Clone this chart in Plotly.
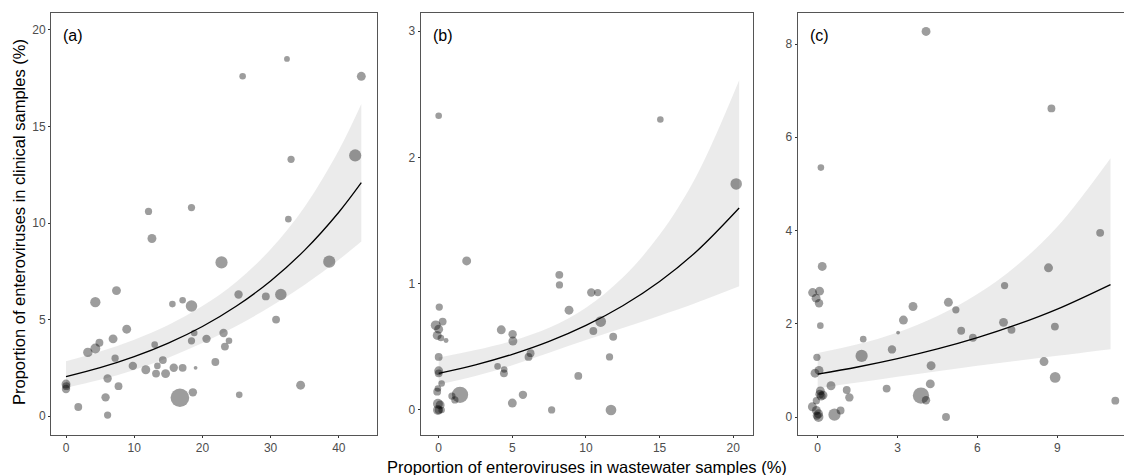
import math
import plotly.graph_objects as go

W, H = 1124, 475

# ---------------- data: panel (a) ----------------
a_x = [32.4, 25.9, 43.3, 42.4, 33.0, 12.1, 18.4, 32.6, 12.6, 22.8, 38.6, 7.4, 4.3, 25.3, 29.3,
       31.5, 15.6, 17.1, 18.4, 30.8, 8.9, 6.9, 4.9, 4.3, 3.2, 13.0, 18.8, 18.4, 20.6, 23.1,
       23.9, 23.3, 7.2, 14.2, 13.4, 9.8, 11.7, 13.2, 14.6, 15.8, 17.1, 19.0, 21.9, 6.1, 0.0,
       0.0, 0.05, 7.7, 5.8, 1.8, 6.1, 16.7, 18.6, 25.4, 34.4]
a_y = [18.5, 17.6, 17.6, 13.5, 13.3, 10.6, 10.8, 10.2, 9.2, 7.96, 8.0, 6.5, 5.9, 6.3, 6.2,
       6.3, 5.8, 6.0, 5.7, 5.0, 4.5, 4.0, 3.8, 3.5, 3.3, 3.7, 4.3, 3.9, 4.0, 4.3,
       3.9, 3.6, 3.0, 2.9, 2.6, 2.6, 2.4, 2.2, 2.2, 2.5, 2.5, 2.5, 2.8, 1.95, 1.66,
       1.4, 1.55, 1.55, 0.97, 0.47, 0.05, 0.95, 1.23, 1.1, 1.6]
a_n = [3, 4, 8, 16, 5, 5, 5, 4, 8, 16, 16, 8, 11, 7, 6,
       14, 4, 4, 14, 6, 8, 8, 6, 10, 9, 4, 4, 5, 7, 7,
       4, 6, 5, 6, 4, 7, 8, 6, 8, 7, 6, 1, 6, 7, 8,
       7, 6, 6, 7, 6, 5, 40, 7, 4, 8]
a_fit_x = [0, 5, 10, 15, 20, 25, 30, 35, 40, 43.3]
a_fit = [2.04, 2.505, 3.077, 3.779, 4.641, 5.70, 7.00, 8.597, 10.56, 12.09]
a_lo = [1.468, 1.878, 2.392, 3.023, 3.782, 4.666, 5.671, 6.808, 8.098, 9.04]
a_hi = [2.835, 3.341, 3.959, 4.723, 5.696, 6.964, 8.641, 10.85, 13.77, 16.16]
a_xticks = [0, 10, 20, 30, 40]
a_yticks = [0, 5, 10, 15, 20]

# ---------------- data: panel (b) ----------------
b_x = [0.0, 15.05, 20.2, 1.9, 8.19, 8.2, 10.36, 10.8, 8.85, 11.0, 10.5, 11.85, 11.6, 4.25, 5.02,
       5.04, 6.24, 6.1, 4.0, 4.45, 4.43, 9.48, 5.72, 5.0, 7.67, 11.7, 1.45, 1.1, 0.9,
       0.04, -0.2, 0.27, 0.0, -0.1, 0.15, 0.5, 0.0, 0.0, 0.0, 0.2, -0.05, -0.1, -0.05, 0.1,
       -0.05, 0.2, 0.0]
b_y = [2.33, 2.30, 1.79, 1.18, 1.07, 0.99, 0.93, 0.93, 0.79, 0.70, 0.625, 0.58, 0.42, 0.635, 0.60,
       0.546, 0.45, 0.42, 0.345, 0.32, 0.29, 0.27, 0.12, 0.055, 0.0, 0.0, 0.12, 0.08, 0.11,
       0.815, 0.67, 0.70, 0.64, 0.59, 0.57, 0.55, 0.42, 0.31, 0.29, 0.21, 0.17, 0.145, 0.05, 0.04,
       0.0, 0.0, 0.0]
b_n = [4, 4, 14, 8, 6, 5, 7, 5, 8, 12, 6, 6, 5, 8, 7,
       8, 6, 6, 4, 4, 6, 6, 7, 8, 5, 12, 30, 5, 5,
       5, 10, 6, 8, 8, 4, 2, 6, 8, 6, 4, 4, 6, 10, 8,
       10, 4, 6]
b_fit_x = [0, 2.5, 5, 7.5, 10, 12.5, 15, 17.5, 20.4]
b_fit = [0.290, 0.3575, 0.4408, 0.5433, 0.6697, 0.8256, 1.0178, 1.2548, 1.599]
b_lo = [0.2023, 0.2697, 0.3545, 0.4533, 0.5538, 0.650, 0.7469, 0.8495, 0.9796]
b_hi = [0.4156, 0.474, 0.548, 0.651, 0.810, 1.0485, 1.387, 1.853, 2.610]
b_xticks = [0, 5, 10, 15, 20]
b_yticks = [0, 1, 2, 3]

# ---------------- data: panel (c) ----------------
c_x = [4.07, 8.78, 0.12, 10.61, 0.17, -0.19, 0.07, -0.06, 0.05, 0.1, -0.03, -0.1, 0.05, 0.1, 0.08,
       0.13, -0.05, -0.2, -0.05, 0.03, 0.03, -0.03, 0.2, 0.5, 0.63, 0.86, 1.09, 1.19, 1.65, 1.71,
       2.59, 2.79, 3.02, 3.22, 3.58, 3.88, 4.07, 4.26, 4.23, 4.82, 4.91, 5.19, 5.39, 5.83, 7.02,
       6.98, 7.28, 8.67, 8.91, 8.5, 8.92, 11.18]
c_y = [8.27, 6.62, 5.35, 3.95, 3.23, 2.67, 2.70, 2.55, 2.44, 1.96, 1.28, 0.94, 1.0, 0.56, 0.49,
       0.45, 0.35, 0.22, 0.14, 0.07, 0.0, 0.03, 0.47, 0.67, 0.05, 0.14, 0.58, 0.42, 1.31, 1.67,
       0.61, 1.45, 1.81, 2.08, 2.37, 0.46, 0.36, 1.10, 0.71, 0.0, 2.46, 2.30, 1.85, 1.70, 2.82,
       2.03, 1.87, 3.2, 1.94, 1.19, 0.85, 0.35]
c_n = [8, 6, 4, 6, 8, 8, 8, 8, 7, 4, 5, 8, 8, 8, 8,
       8, 5, 8, 8, 8, 10, 7, 8, 8, 16, 6, 6, 7, 16, 4,
       6, 7, 1, 8, 8, 30, 7, 8, 8, 6, 8, 5, 6, 6, 5,
       8, 6, 8, 6, 8, 12, 6]
c_fit_x = [0, 1.5, 3, 4.5, 6, 7.5, 9, 11]
c_fit = [0.92, 1.0729, 1.2512, 1.4591, 1.7017, 1.9846, 2.3143, 2.841]
c_lo = [0.6167, 0.7384, 0.8628, 0.9836, 1.0983, 1.2075, 1.3133, 1.4538]
c_hi = [1.3725, 1.559, 1.814, 2.1645, 2.6366, 3.262, 4.0785, 5.551]
c_xticks = [0, 3, 6, 9]
c_yticks = [0, 2, 4, 6, 8]

labels = ["(a)", "(b)", "(c)"]
x_title = "Proportion of enteroviruses in wastewater samples (%)"
y_title = "Proportion of enteroviruses in clinical samples (%)"

# ---------------- layout geometry (pixels) ----------------
FONT = "Liberation Sans, Arial, Helvetica, sans-serif"
panels = [
    dict(x=a_x, y=a_y, n=a_n, fx=a_fit_x, f=a_fit, lo=a_lo, hi=a_hi, xt=a_xticks, yt=a_yticks,
         px=(51, 377), xr=[-2.2, 45.6], yr=[-0.98, 20.88]),
    dict(x=b_x, y=b_y, n=b_n, fx=b_fit_x, f=b_fit, lo=b_lo, hi=b_hi, xt=b_xticks, yt=b_yticks,
         px=(420.7, 752.7), xr=[-1.22, 21.32], yr=[-0.198, 3.143]),
    dict(x=c_x, y=c_y, n=c_n, fx=c_fit_x, f=c_fit, lo=c_lo, hi=c_hi, xt=c_xticks, yt=c_yticks,
         px=(797.7, 1124), xr=[-0.751, 11.506], yr=[-0.386, 8.666]),
]
PY = (13, 435)

fig = go.Figure()
layout = dict(
    width=W, height=H, margin=dict(l=0, r=0, t=0, b=0),
    paper_bgcolor="white", plot_bgcolor="white", showlegend=False,
    font=dict(family=FONT, size=13, color="#4d4d4d"),
)

def size_of(n):
    return 1.0 + 2.8 * math.sqrt(n)

annotations = []
for i, p in enumerate(panels):
    sfx = "" if i == 0 else str(i + 1)
    xa, ya = "x" + sfx, "y" + sfx
    # ribbon
    fig.add_trace(go.Scatter(x=p["fx"], y=p["lo"], mode="lines", line=dict(width=0, shape="spline"),
                             xaxis=xa, yaxis=ya, hoverinfo="skip"))
    fig.add_trace(go.Scatter(x=p["fx"], y=p["hi"], mode="lines", line=dict(width=0, shape="spline"),
                             fill="tonexty", fillcolor="rgba(153,153,153,0.2)",
                             xaxis=xa, yaxis=ya, hoverinfo="skip"))
    # points
    fig.add_trace(go.Scatter(x=p["x"], y=p["y"], mode="markers",
                             marker=dict(size=[size_of(v) for v in p["n"]], color="rgba(0,0,0,0.55)",
                                         line=dict(width=0)),
                             xaxis=xa, yaxis=ya))
    # fitted curve
    fig.add_trace(go.Scatter(x=p["fx"], y=p["f"], mode="lines",
                             line=dict(color="black", width=1.3, shape="spline"),
                             xaxis=xa, yaxis=ya))
    common = dict(showgrid=False, zeroline=False, showline=True, mirror=True,
                  linecolor="#555555", linewidth=1, ticks="outside", ticklen=2,
                  tickcolor="#333333", tickwidth=1,
                  tickfont=dict(family=FONT, size=12, color="#4d4d4d"))
    layout["xaxis" + sfx] = dict(domain=[p["px"][0] / W, p["px"][1] / W], range=p["xr"],
                                 tickvals=p["xt"], anchor=ya, **common)
    layout["yaxis" + sfx] = dict(domain=[1 - PY[1] / H, 1 - PY[0] / H], range=p["yr"],
                                 tickvals=p["yt"], anchor=xa, **common)
    annotations.append(dict(text=labels[i], x=(p["px"][0] + 10) / W, y=1 - 35 / H,
                            xref="paper", yref="paper", xanchor="left", yanchor="middle",
                            showarrow=False, font=dict(family=FONT, size=16, color="black")))

annotations.append(dict(text=x_title, x=587 / W, y=0, xref="paper", yref="paper",
                        xanchor="center", yanchor="bottom", yshift=-2, borderpad=0,
                        showarrow=False, font=dict(family=FONT, size=16.5, color="black")))
annotations.append(dict(text=y_title, x=19 / W, y=1 - 222 / H, xref="paper", yref="paper",
                        xanchor="center", yanchor="middle", textangle=-90, showarrow=False,
                        font=dict(family=FONT, size=16.5, color="black")))
layout["annotations"] = annotations
fig.update_layout(**layout)
fig.write_html("out.html")
